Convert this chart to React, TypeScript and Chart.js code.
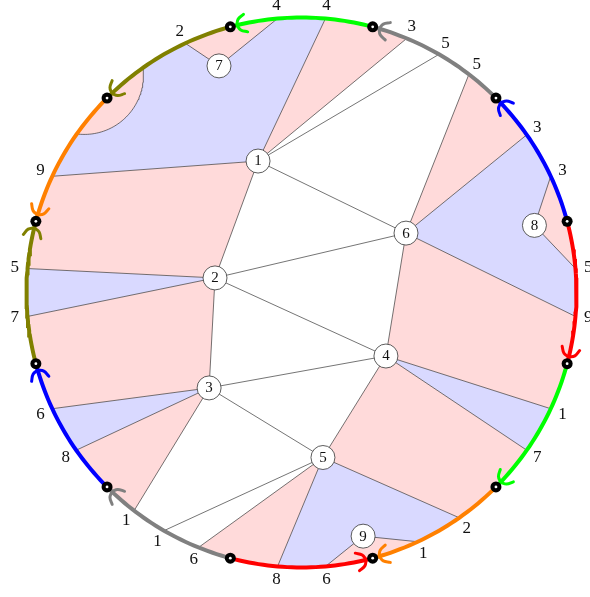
import React, { useEffect, useRef } from 'react';
import { Chart, registerables } from 'chart.js';
Chart.register(...registerables);

// ---- data (unit-circle coordinates, angles in degrees) ----
const nodeIds = ['1', '2', '3', '4', '5', '6', '7', '8', '9'];
const nodeX = [-0.158, -0.3145, -0.336, 0.307, 0.078, 0.38, -0.3, 0.847, 0.224];
const nodeY = [0.478, 0.053, -0.347, -0.231, -0.6, 0.216, 0.824, 0.244, -0.886];

const markedAngles = [15, 45, 75, 105, 135, 165, 195, 225, 255, 285, 315, 345];

const arcFrom = [15, 45, 75, 105, 135, 195, 225, 255, 255, 315, 345, 15];
const arcTo = [45, 75, 105, 135, 165, 165, 195, 225, 285, 285, 315, -15];
const arcColors = ['#0000ff', '#808080', '#00ff00', '#808000', '#ff8000', '#808000', '#0000ff', '#808080', '#ff0000', '#ff8000', '#00ff00', '#ff0000'];

const endAngles = [95, 85, 67.5, 60, 52.5, 35, 25, 5, -5, -25, -35, -55, -65, -85, -95, 248, 240, 232.5, 215, 205, 185, 175, 155, 115];
const endLabels = ['4', '4', '3', '5', '5', '3', '3', '5', '9', '1', '7', '2', '1', '6', '8', '6', '1', '1', '8', '6', '7', '5', '9', '2'];

const edgeA = [1, 1, 2, 2, 2, 3, 3, 4, 4];
const edgeB = [2, 6, 6, 4, 3, 4, 5, 5, 6];

const spokeNode = [1, 1, 1, 1, 6, 6, 6, 8, 8, 4, 4, 5, 5, 5, 5, 9, 9, 3, 3, 3, 2, 2, 7, 7];
const spokeAngle = [85, 67.5, 60, 155, 52.5, 35, -5, 25, 5, -25, -35, -55, -95, 240, 248, -85, -65, 232.5, 215, 205, 175, 185, 95, 115];

const loopAt = 135;
const loopCenterDist = 1.117;
const loopRadius = 0.215;

type Tok = string | number;
const blueRegions: Tok[][] = [
  ['n1', 85, 155], ['n2', 175, 185], ['n3', 205, 215], ['n5', 265, 305], ['n4', -35, -25], ['n6', -5, 35],
];
const pinkRegions: Tok[][] = [
  ['n1', 85, 67.5], ['n6', 35, 52.5], ['n4', -25, -5, 'n6'], ['n5', -55, -35, 'n4'], ['n5', 248, 265],
  ['n3', 215, 232.5], ['n2', 185, 205, 'n3'], ['n1', 155, 175, 'n2'], ['n7', 95, 115], ['n8', 5, 25], ['n9', 275, 295],
];

const PINK = 'rgb(255,218,218)';
const BLUE = 'rgb(217,217,255)';
const EDGE = 'rgba(50,50,50,0.85)';

// ---- geometry helpers ----
const DEG = Math.PI / 180;
const pt = (a: number, r = 1) => ({ x: r * Math.cos(a * DEG), y: r * Math.sin(a * DEG) });
const arcPts = (a: number, b: number, r = 1) => {
  const n = Math.max(2, Math.ceil(Math.abs(b - a)));
  const out: { x: number; y: number }[] = [];
  for (let i = 0; i <= n; i++) out.push(pt(a + ((b - a) * i) / n, r));
  return out;
};
const nodePt = (id: number) => ({ x: nodeX[id - 1], y: nodeY[id - 1] });

function regionPts(tokens: Tok[]) {
  const out: { x: number; y: number }[] = [];
  for (let i = 0; i < tokens.length; i++) {
    const t = tokens[i];
    if (typeof t === 'string') {
      out.push(nodePt(+t.slice(1)));
      continue;
    }
    const nx = tokens[i + 1];
    if (typeof nx === 'number') {
      out.push(...arcPts(t, nx));
      i++;
    } else out.push(pt(t));
  }
  out.push(out[0]);
  return out;
}

function loopGeometry() {
  const c = pt(loopAt, loopCenterDist);
  const cosd = (1 + loopCenterDist ** 2 - loopRadius ** 2) / (2 * loopCenterDist);
  const delta = Math.acos(cosd) / DEG;
  const pA = pt(loopAt + delta);
  const pB = pt(loopAt - delta);
  const inward = loopAt + 180;
  const norm = (v: number) => ((((v % 360) + 540) % 360) - 180);
  const psiA = norm(Math.atan2(pA.y - c.y, pA.x - c.x) / DEG - inward);
  const psiB = norm(Math.atan2(pB.y - c.y, pB.x - c.x) / DEG - inward);
  const curve: { x: number; y: number }[] = [];
  const n = 60;
  for (let i = 0; i <= n; i++) {
    const ang = (inward + psiA + ((psiB - psiA) * i) / n) * DEG;
    curve.push({ x: c.x + loopRadius * Math.cos(ang), y: c.y + loopRadius * Math.sin(ang) });
  }
  const wedge = [...arcPts(loopAt - delta, loopAt + delta), ...curve];
  wedge.push(wedge[0]);
  return { curve, wedge };
}

const labelPlugin = {
  id: 'textLabels',
  afterDatasetsDraw(chart: any) {
    const { ctx } = chart;
    const xs = chart.scales.x;
    const ys = chart.scales.y;
    ctx.save();
    ctx.fillStyle = '#111';
    ctx.textAlign = 'center';
    ctx.textBaseline = 'middle';
    ctx.font = '15px "Liberation Serif", serif';
    nodeIds.forEach((id, i) => {
      ctx.fillText(id, xs.getPixelForValue(nodeX[i]), ys.getPixelForValue(nodeY[i]) + 0.5);
    });
    ctx.font = '17px "Liberation Serif", serif';
    endAngles.forEach((a, i) => {
      const p = pt(a, 1.047);
      ctx.fillText(endLabels[i], xs.getPixelForValue(p.x), ys.getPixelForValue(p.y));
    });
    ctx.restore();
  },
};

export default function App() {
  const ref = useRef<HTMLCanvasElement>(null);
  useEffect(() => {
    document.body.style.margin = '0';
    const layers: any[] = [];
    const poly = (data: any[], color: string) =>
      layers.push({ data, showLine: true, fill: 'shape', backgroundColor: color, borderWidth: 0, borderColor: 'rgba(0,0,0,0)', pointRadius: 0 });
    const line = (data: any[], color: string, width: number, extra: any = {}) =>
      layers.push({ data, showLine: true, fill: false, borderColor: color, borderWidth: width, pointRadius: 0, ...extra });

    blueRegions.forEach((r) => poly(regionPts(r), BLUE));
    pinkRegions.forEach((r) => poly(regionPts(r), PINK));
    const loop = loopGeometry();
    poly(loop.wedge, PINK);

    edgeA.forEach((a, i) => line([nodePt(a), nodePt(edgeB[i])], EDGE, 0.8));
    spokeNode.forEach((n, i) => line([nodePt(n), pt(spokeAngle[i])], EDGE, 0.8));
    line(loop.curve, EDGE, 0.8);

    arcFrom.forEach((f, i) => line(arcPts(f, arcTo[i]), arcColors[i], 4, { borderCapStyle: 'butt' }));
    // arrow heads near the end of every arc
    const b = 9 / 275;
    const w = 9 / 275;
    arcFrom.forEach((f, i) => {
      const t = arcTo[i];
      const s = Math.sign(t - f);
      const th = (t - s * 1.4) * DEG;
      const tip = { x: Math.cos(th), y: Math.sin(th) };
      const d = { x: -s * Math.sin(th), y: s * Math.cos(th) };
      const n = { x: Math.cos(th), y: Math.sin(th) };
      [1, -1].forEach((sg) => {
        const mid = { x: tip.x - d.x * b * 0.3 + n.x * w * 0.62 * sg, y: tip.y - d.y * b * 0.3 + n.y * w * 0.62 * sg };
        const end = { x: tip.x - d.x * b + n.x * w * sg, y: tip.y - d.y * b + n.y * w * sg };
        line([tip, mid, end], arcColors[i], 3, { tension: 0.4, borderCapStyle: 'round', borderJoinStyle: 'round' });
      });
    });

    layers.push({ data: markedAngles.map((a) => pt(a)), showLine: false, pointRadius: 5.5, pointBackgroundColor: '#000', pointBorderWidth: 0 });
    layers.push({ data: markedAngles.map((a) => pt(a)), showLine: false, pointRadius: 1.4, pointBackgroundColor: '#fff', pointBorderWidth: 0 });
    layers.push({
      data: nodeIds.map((_, i) => ({ x: nodeX[i], y: nodeY[i] })),
      showLine: false,
      pointRadius: 12,
      pointBackgroundColor: '#fff',
      pointBorderColor: '#333',
      pointBorderWidth: 0.8,
    });

    const N = layers.length;
    layers.forEach((l, i) => (l.order = N - i));

    const chart = new Chart(ref.current!, {
      type: 'line',
      data: { datasets: layers },
      options: {
        responsive: false,
        maintainAspectRatio: false,
        animation: false,
        events: [],
        layout: { padding: 0, autoPadding: false },
        elements: { line: { tension: 0 }, point: { radius: 0, hoverRadius: 0 } },
        plugins: { legend: { display: false }, tooltip: { enabled: false } },
        scales: {
          x: { type: 'linear', display: false, min: -301.5 / 275, max: (590 - 301.5) / 275 },
          y: { type: 'linear', display: false, min: -(597 - 292.5) / 275, max: 292.5 / 275 },
        },
      },
      plugins: [labelPlugin],
    } as any);
    return () => chart.destroy();
  }, []);
  return (
    <div style={{ width: 590, height: 597 }}>
      <canvas ref={ref} width={590} height={597} style={{ display: 'block', width: 590, height: 597 }} />
    </div>
  );
}
